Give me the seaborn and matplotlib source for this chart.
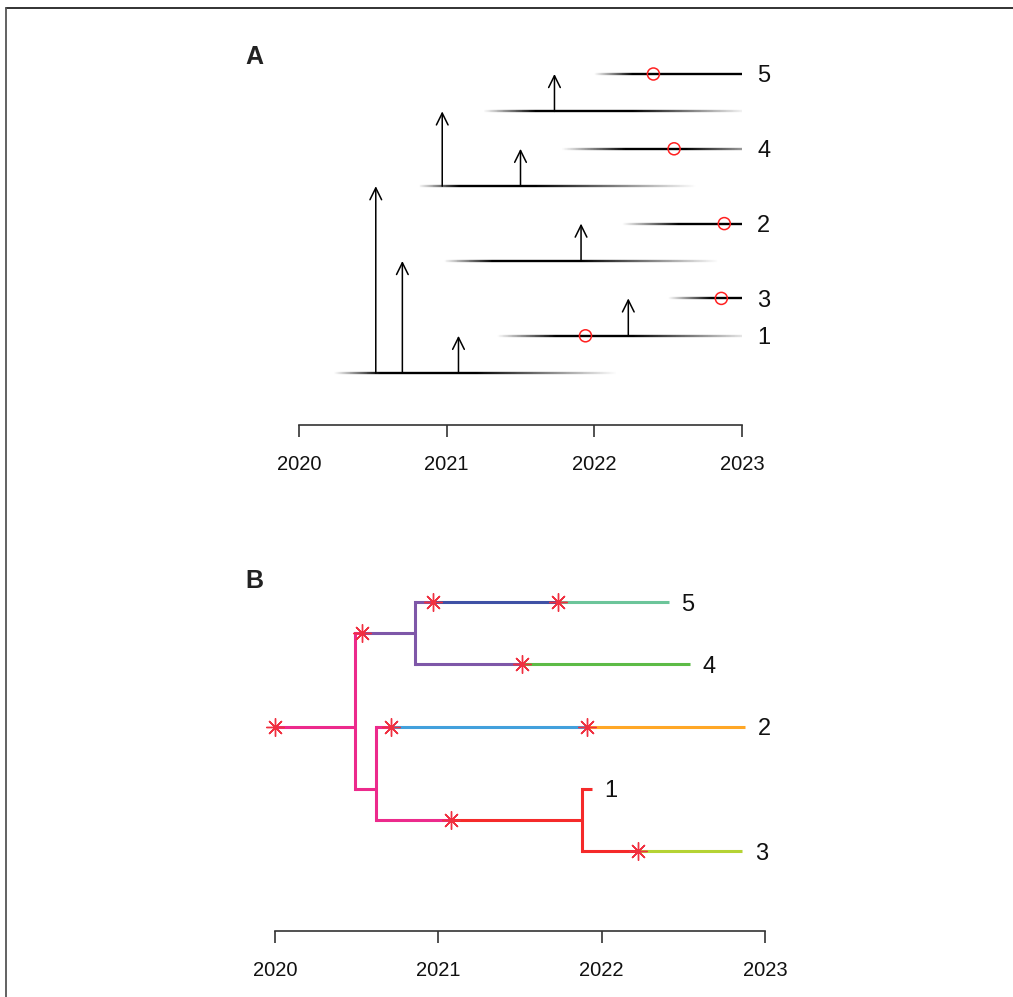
import numpy as np
import matplotlib
matplotlib.use("Agg")
import matplotlib.pyplot as plt
from matplotlib.collections import LineCollection
from matplotlib.lines import Line2D
import seaborn as sns

# ---------------- data ----------------
# Panel A: host rows, top to bottom
row_labels = ["5", "", "4", "", "2", "", "3", "1", ""]
row_fade_start = [2022.00, 2021.25, 2021.78, 2020.81, 2022.19, 2020.98, 2022.50, 2021.34, 2020.24]
row_solid_start = [2022.26, 2021.60, 2022.21, 2021.08, 2022.57, 2021.31, 2022.79, 2021.74, 2020.55]
row_solid_end = [2023.00, 2022.26, 2022.62, 2021.60, 2023.00, 2021.91, 2023.00, 2022.26, 2021.20]
row_fade_end = [2023.00, 2023.00, 2023.00, 2022.69, 2023.00, 2022.84, 2023.00, 2023.00, 2022.15]
row_end_alpha = [1.0, 0.05, 0.4, 0.0, 1.0, 0.0, 1.0, 0.1, 0.0]

arrow_time = [2020.52, 2020.70, 2021.08, 2020.97, 2021.50, 2021.73, 2021.91, 2022.23]
arrow_from = [8, 8, 8, 3, 3, 1, 5, 7]
arrow_to = [3, 5, 7, 1, 2, 0, 4, 6]

sample_time = [2022.40, 2022.54, 2022.88, 2022.86, 2021.94]
sample_row = [0, 2, 4, 6, 7]

# Panel B: dated tree
tip_order = ["5", "4", "2", "1", "3"]
node_names = ["root", "A", "B", "C", "5", "4", "2", "1", "3"]
node_parent = [None, "root", "root", "B", "A", "A", "B", "C", "C"]
node_time = [2020.49, 2020.86, 2020.62, 2021.88, 2022.41, 2022.54, 2022.88, 2021.94, 2022.86]
root_origin = 2020.00

inf_node = ["root", "A", "2", "5", "C", "4", "5", "2", "3"]
inf_time = [2020.00, 2020.53, 2020.71, 2020.97, 2021.08, 2021.51, 2021.73, 2021.91, 2022.22]
inf_color = ["#EC2A8C", "#7E57A8", "#42A0DC", "#3F51A5", "#F52A2A",
             "#5DBB46", "#6CC59A", "#FFA726", "#B5D334"]

year_ticks = [2020, 2021, 2022, 2023]

# ---------------- style ----------------
sns.set_style("white")
plt.rcParams["font.family"] = ["Liberation Sans", "DejaVu Sans"]

W, H = 1013, 997
fig = plt.figure(figsize=(W / 100, H / 100), dpi=100)

def px_axes(left_px, right_px, top_px, bottom_px):
    return fig.add_axes([left_px / W, 1 - bottom_px / H,
                         (right_px - left_px) / W, (bottom_px - top_px) / H])

def style_time_axis(ax):
    for s in ["top", "right", "left"]:
        ax.spines[s].set_visible(False)
    ax.spines["bottom"].set_bounds(year_ticks[0], year_ticks[-1])
    ax.spines["bottom"].set_color("#333333")
    ax.spines["bottom"].set_linewidth(1.2)
    ax.set_xticks(year_ticks)
    ax.set_xticklabels([str(y) for y in year_ticks])
    ax.tick_params(axis="x", direction="out", length=8.5, width=1.2, color="#333333",
                   pad=13, labelsize=14.5, labelcolor="#111111", bottom=True)
    ax.set_yticks([])
    ax.set_facecolor("none")

# ---------------- Panel A ----------------
axA = px_axes(299 - 73.85, 742 + 73.85, 40, 425)
axA.set_xlim(2019.5, 2023.5)
axA.set_ylim(9.385, -0.909)
style_time_axis(axA)

for i in range(len(row_labels)):
    xs = np.linspace(row_fade_start[i], row_fade_end[i], 300)
    a = np.interp(xs, [row_fade_start[i], row_solid_start[i], row_solid_end[i], row_fade_end[i]],
                  [0.0, 1.0, 1.0, row_end_alpha[i]])
    pts = np.column_stack([xs, np.full_like(xs, i)])
    segs = np.stack([pts[:-1], pts[1:]], axis=1)
    cols = [(0, 0, 0, 0.5 * (a[k] + a[k + 1])) for k in range(len(xs) - 1)]
    lc = LineCollection(segs, colors=cols, linewidths=1.7, capstyle="butt")
    axA.add_collection(lc)
    if row_labels[i]:
        axA.annotate(row_labels[i], xy=(2023.0, i), xytext=(11, 0), textcoords="offset points",
                     ha="left", va="center_baseline", fontsize=17, color="#111111")

for t, f, to in zip(arrow_time, arrow_from, arrow_to):
    axA.annotate("", xy=(t, to), xytext=(t, f),
                 arrowprops=dict(arrowstyle="->,head_length=0.85,head_width=0.42",
                                 lw=1.1, color="black", shrinkA=0, shrinkB=0))

sns.scatterplot(x=sample_time, y=sample_row, ax=axA, marker="o", s=75,
                facecolor="none", edgecolor="#FF2020", linewidth=1.1, zorder=5)

fig.text(254 / W, 1 - 57 / H, "A", fontsize=18, fontweight="bold", ha="center", va="center",
         color="#222222")

# ---------------- Panel B ----------------
axB = px_axes(275 - 81.67, 765 + 81.67, 570, 931)
axB.set_xlim(2019.5, 2023.5)
axB.set_ylim(6.281, 0.486)
style_time_axis(axB)

parent = dict(zip(node_names, node_parent))
ntime = dict(zip(node_names, node_time))
children = {n: [c for c, p in zip(node_names, node_parent) if p == n] for n in node_names}

def tips_of(n):
    if not children[n]:
        return [n]
    out = []
    for c in children[n]:
        out += tips_of(c)
    return out

ypos = {n: np.mean([tip_order.index(t) + 1 for t in tips_of(n)]) for n in node_names}

events = {}
for n, t, c in zip(inf_node, inf_time, inf_color):
    events.setdefault(n, []).append((t, c))

def draw_edge(n, start_t, start_col):
    y = ypos[n]
    segs = sorted(events.get(n, []))
    cur_t, cur_c = start_t, start_col
    for t, c in segs:
        if t > cur_t and cur_c is not None:
            axB.plot([cur_t, t], [y, y], color=cur_c, lw=2.2, solid_capstyle="butt", zorder=2)
        cur_t, cur_c = t, c
    axB.plot([cur_t, ntime[n]], [y, y], color=cur_c, lw=2.2, solid_capstyle="butt", zorder=2)
    if children[n]:
        ys = [ypos[c] for c in children[n]]
        axB.plot([ntime[n], ntime[n]], [min(ys), max(ys)], color=cur_c, lw=2.2,
                 solid_capstyle="projecting", zorder=2)
        for c in children[n]:
            draw_edge(c, ntime[n], cur_c)

draw_edge("root", root_origin, None)

for t in tip_order:
    axB.annotate(t, xy=(ntime[t], ypos[t]), xytext=(9, 0), textcoords="offset points",
                 ha="left", va="center_baseline", fontsize=17, color="#111111")

ev_y = [ypos[n] for n in inf_node]
axB.plot(inf_time, ev_y, ls="none", marker=(8, 2, 0), ms=13, mew=1.0,
         color="#F03040", zorder=4)

fig.text(254 / W, 1 - 581 / H, "B", fontsize=18, fontweight="bold", ha="center", va="center",
         color="#222222")

# ---------------- frame ----------------
fig.add_artist(Line2D([6 / W, 1.0], [1 - 8 / H, 1 - 8 / H], transform=fig.transFigure,
                      color="#222222", lw=1.3))
fig.add_artist(Line2D([6 / W, 6 / W], [0.0, 1 - 8 / H], transform=fig.transFigure,
                      color="#555555", lw=1.3))

fig.savefig("out.png", dpi=100)
